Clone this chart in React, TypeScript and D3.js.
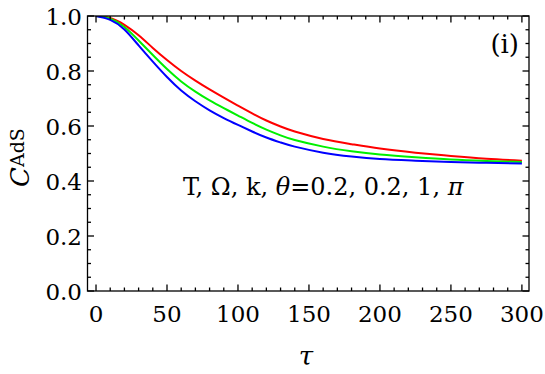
import React from "react";
import * as d3 from "d3";

const tau = [0, 10, 20, 30, 40, 50, 60, 70, 80, 90, 100, 110, 120, 130, 140, 160, 180, 200, 225, 250, 275, 300];
const blueC = [1.0, 0.986, 0.951, 0.893, 0.834, 0.778, 0.729, 0.69, 0.657, 0.629, 0.604, 0.58, 0.558, 0.54, 0.525, 0.503, 0.489, 0.48, 0.474, 0.469, 0.466, 0.464];
const greenC = [1.0, 0.99, 0.96, 0.911, 0.858, 0.807, 0.762, 0.725, 0.693, 0.665, 0.638, 0.611, 0.587, 0.566, 0.549, 0.525, 0.508, 0.496, 0.486, 0.478, 0.473, 0.469];
const redC = [1.0, 0.993, 0.968, 0.93, 0.884, 0.84, 0.8, 0.765, 0.733, 0.703, 0.674, 0.646, 0.62, 0.598, 0.58, 0.553, 0.534, 0.518, 0.503, 0.491, 0.481, 0.474];

const xTicks = [0, 50, 100, 150, 200, 250, 300];
const yTicks = [0, 0.2, 0.4, 0.6, 0.8, 1.0];
const yTickLabels = ["0.0", "0.2", "0.4", "0.6", "0.8", "1.0"];

const W = 545;
const H = 374;
const FONT = "DejaVu Serif";

export default function App() {
  const x = d3.scaleLinear().domain([-6, 305]).range([87.5, 529]);
  const y = d3.scaleLinear().domain([0, 1]).range([291, 16]);
  const [x0, x1] = x.range();
  const [y0, y1] = y.range();

  const xMinor = d3.range(0, 301, 10);
  const yMinor = d3.range(0, 1.0001, 0.05);

  const line = d3
    .line<number>()
    .x((_, i) => x(tau[i]))
    .y((v) => y(v))
    .curve(d3.curveNatural);

  const series = [
    { vals: redC, color: "#ff0000" },
    { vals: greenC, color: "#00f000" },
    { vals: blueC, color: "#0000ff" },
  ];

  const sw = 1.3;
  const major = 6.5;
  const minor = 3.5;

  return (
    <svg width={W} height={H} style={{ position: "absolute", left: 0, top: 0 }} fontFamily={FONT}>
      <rect x={0} y={0} width={W} height={H} fill="#fff" />
      <defs>
        <clipPath id="plotclip">
          <rect x={x0} y={y1} width={x1 - x0} height={y0 - y1} />
        </clipPath>
      </defs>
      <g clipPath="url(#plotclip)">
        {series.map((s, i) => (
          <path key={i} d={line(s.vals) || ""} fill="none" stroke={s.color} strokeWidth={2} />
        ))}
      </g>
      <rect x={x0} y={y1} width={x1 - x0} height={y0 - y1} fill="none" stroke="#000" strokeWidth={sw} />
      {xMinor.map((t) => {
        const isMajor = t % 50 === 0;
        const len = isMajor ? major : minor;
        return (
          <g key={"xt" + t}>
            <line x1={x(t)} x2={x(t)} y1={y0} y2={y0 - len} stroke="#000" strokeWidth={sw} />
            <line x1={x(t)} x2={x(t)} y1={y1} y2={y1 + len} stroke="#000" strokeWidth={sw} />
          </g>
        );
      })}
      {yMinor.map((v, i) => {
        const isMajor = i % 4 === 0;
        const len = isMajor ? major : minor;
        return (
          <g key={"yt" + i}>
            <line x1={x0} x2={x0 + len} y1={y(v)} y2={y(v)} stroke="#000" strokeWidth={sw} />
            <line x1={x1} x2={x1 - len} y1={y(v)} y2={y(v)} stroke="#000" strokeWidth={sw} />
          </g>
        );
      })}
      {xTicks.map((t) => (
        <text key={"xl" + t} x={x(t)} y={y0 + 31} textAnchor="middle" fontSize={23}>
          {t}
        </text>
      ))}
      {yTicks.map((v, i) => (
        <text key={"yl" + i} x={82} y={y(v) + 9} textAnchor="end" fontSize={23}>
          {yTickLabels[i]}
        </text>
      ))}
      <text x={306} y={365} textAnchor="middle" fontSize={26} fontStyle="italic">
        τ
      </text>
      <text transform="translate(29,187) rotate(-90)" fontSize={26}>
        <tspan fontStyle="italic">C</tspan>
        <tspan fontSize={19} dy={-5}>AdS</tspan>
      </text>
      <text x={519} y={53} textAnchor="end" fontSize={26}>
        (i)
      </text>
      <text x={183} y={195} fontSize={24}>
        T, Ω, k, <tspan fontStyle="italic">θ</tspan>=0.2, 0.2, 1, <tspan fontStyle="italic">π</tspan>
      </text>
    </svg>
  );
}
